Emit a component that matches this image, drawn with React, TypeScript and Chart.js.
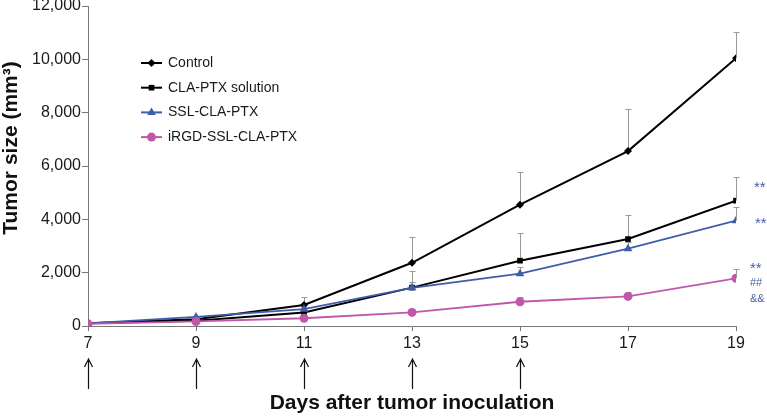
import React, { useEffect, useRef } from "react";
import { Chart, registerables } from "chart.js";

Chart.register(...registerables);

const days = [7, 9, 11, 13, 15, 17, 19];
const seriesLabels = ["Control", "CLA-PTX solution", "SSL-CLA-PTX", "iRGD-SSL-CLA-PTX"];
const controlMean = [100, 250, 790, 2370, 4550, 6560, 10040];
const controlErr = [0, 60, 290, 950, 1220, 1560, 1000];
const claMean = [100, 200, 510, 1440, 2450, 3260, 4700];
const claErr = [0, 50, 150, 620, 1050, 920, 890];
const sslMean = [100, 340, 630, 1430, 1960, 2900, 3950];
const sslErr = [0, 40, 100, 230, 260, 250, 530];
const irgdMean = [80, 170, 290, 510, 910, 1110, 1790];
const irgdErr = [0, 30, 60, 100, 170, 150, 350];
const xTicks = [7, 9, 11, 13, 15, 17, 19];
const yTicks = [0, 2000, 4000, 6000, 8000, 10000, 12000];
const arrowDays = [7, 9, 11, 13, 15];
const annotationTexts = ["**", "**", "**", "##", "&&"];
const annotationValues = [5320, 3970, 2290, 1610, 1010];

const FONT = "'Liberation Sans', Arial, Helvetica, sans-serif";
const BLUE = "#3f5daa";
const MAGENTA = "#c157a8";

function drawMarker(ctx: CanvasRenderingContext2D, style: string, x: number, y: number, r: number, color: string) {
  ctx.save();
  ctx.fillStyle = color;
  ctx.beginPath();
  if (style === "rectRot") {
    ctx.moveTo(x, y - r);
    ctx.lineTo(x + r, y);
    ctx.lineTo(x, y + r);
    ctx.lineTo(x - r, y);
    ctx.closePath();
  } else if (style === "rect") {
    const s = r * Math.SQRT1_2;
    ctx.rect(x - s, y - s, 2 * s, 2 * s);
  } else if (style === "triangle") {
    ctx.moveTo(x, y - r);
    ctx.lineTo(x + r * 0.866, y + r * 0.5);
    ctx.lineTo(x - r * 0.866, y + r * 0.5);
    ctx.closePath();
  } else {
    ctx.arc(x, y, r, 0, Math.PI * 2);
  }
  ctx.fill();
  ctx.restore();
}

export default function App() {
  const ref = useRef<HTMLCanvasElement>(null);

  useEffect(() => {
    document.body.style.margin = "0";
    const means = [controlMean, claMean, sslMean, irgdMean];
    const errs = [controlErr, claErr, sslErr, irgdErr];
    const colors = ["#000000", "#000000", BLUE, MAGENTA];
    const styles = ["rectRot", "rect", "triangle", "circle"];
    const radii = [4, 4, 5, 4.5];
    const widths = [2, 2, 1.8, 1.8];
    const orders = [3, 2, 1, 0];

    const datasets = means.map((m, i) => ({
      label: seriesLabels[i],
      data: days.map((d, j) => ({ x: d, y: m[j] })),
      borderColor: colors[i],
      backgroundColor: colors[i],
      pointBackgroundColor: colors[i],
      pointBorderColor: colors[i],
      pointBorderWidth: 0,
      pointStyle: styles[i] as any,
      pointRadius: radii[i],
      borderWidth: widths[i],
      tension: 0,
      order: orders[i],
    }));

    const extras = {
      id: "extras",
      beforeDatasetsDraw(chart: any) {
        const { ctx, scales } = chart;
        const xs = scales.x;
        const ys = scales.y;
        ctx.save();
        ctx.strokeStyle = "#9a9a9a";
        ctx.lineWidth = 1;
        errs.forEach((e, i) => {
          e.forEach((v, j) => {
            if (!v) return;
            const x = Math.round(xs.getPixelForValue(days[j])) + 0.5;
            const y0 = ys.getPixelForValue(means[i][j]);
            const y1 = Math.round(ys.getPixelForValue(means[i][j] + v)) + 0.5;
            ctx.beginPath();
            ctx.moveTo(x, y0);
            ctx.lineTo(x, y1);
            ctx.moveTo(x - 3, y1);
            ctx.lineTo(x + 3, y1);
            ctx.stroke();
          });
        });
        ctx.restore();
      },
      afterDraw(chart: any) {
        const { ctx, scales, chartArea } = chart;
        const xs = scales.x;
        const ys = scales.y;
        // arrows
        ctx.save();
        ctx.strokeStyle = "#111";
        ctx.lineWidth = 1.2;
        arrowDays.forEach((d) => {
          const x = Math.round(xs.getPixelForValue(d)) + 0.5;
          const top = chartArea.bottom + 33;
          const bot = chartArea.bottom + 63;
          ctx.beginPath();
          ctx.moveTo(x, bot);
          ctx.lineTo(x, top);
          ctx.moveTo(x - 4, top + 8);
          ctx.lineTo(x, top);
          ctx.lineTo(x + 4, top + 8);
          ctx.stroke();
        });
        ctx.restore();

        // legend
        ctx.save();
        chart.data.datasets.forEach((ds: any, i: number) => {
          const y = chartArea.top + 57 + i * 24.7;
          const lx = chartArea.left + 53;
          ctx.strokeStyle = ds.borderColor;
          ctx.lineWidth = 2;
          ctx.beginPath();
          ctx.moveTo(lx, y);
          ctx.lineTo(lx + 21, y);
          ctx.stroke();
          drawMarker(ctx, styles[i], lx + 10.5, y, radii[i], ds.borderColor);
          ctx.fillStyle = "#1a1a1a";
          ctx.font = `14px ${FONT}`;
          ctx.textAlign = "left";
          ctx.textBaseline = "middle";
          ctx.fillText(ds.label, lx + 27, y);
        });
        ctx.restore();

        // annotations
        ctx.save();
        ctx.fillStyle = "#4a5ea8";
        ctx.textAlign = "left";
        ctx.textBaseline = "middle";
        const xEnd = xs.getPixelForValue(days[days.length - 1]);
        annotationTexts.forEach((t, i) => {
          const offs = i === 0 ? 18 : i === 1 ? 19 : 14;
          const y = ys.getPixelForValue(annotationValues[i]);
          const star = t === "**";
          ctx.font = star ? `15px ${FONT}` : `11px ${FONT}`;
          ctx.fillText(t, xEnd + offs, star ? y + 4 : y);
        });
        ctx.restore();

        // y title
        ctx.save();
        ctx.fillStyle = "#111";
        ctx.font = `bold 21px ${FONT}`;
        ctx.textAlign = "center";
        ctx.textBaseline = "middle";
        ctx.translate(11, (chartArea.top + chartArea.bottom) / 2 - 18);
        ctx.rotate(-Math.PI / 2);
        ctx.fillText("Tumor size (mm³)", 0, 0);
        ctx.restore();
      },
    };

    const chart = new Chart(ref.current!, {
      type: "line",
      data: { datasets },
      options: {
        animation: false,
        responsive: true,
        maintainAspectRatio: false,
        layout: { padding: { top: 6, right: 31, bottom: 0, left: 0 } },
        plugins: { legend: { display: false }, tooltip: { enabled: false } },
        scales: {
          x: {
            type: "linear",
            min: 7,
            max: 19,
            afterBuildTicks: (s: any) => {
              s.ticks = xTicks.map((v) => ({ value: v }));
            },
            afterFit: (s: any) => {
              s.height = 90;
              s.paddingLeft = 0;
              s.paddingRight = 0;
            },
            grid: { display: true, drawOnChartArea: false, drawTicks: true, tickLength: 5, color: "#777" },
            border: { display: true, color: "#777", width: 1 },
            ticks: { color: "#1a1a1a", font: { family: FONT, size: 16 }, padding: 3, maxRotation: 0 },
            title: {
              display: true,
              text: "Days after tumor inoculation",
              color: "#111",
              font: { family: FONT, size: 21, weight: "bold", lineHeight: 1.2 },
              padding: 0,
            },
          },
          y: {
            type: "linear",
            min: 0,
            max: 12000,
            afterBuildTicks: (s: any) => {
              s.ticks = yTicks.map((v) => ({ value: v }));
            },
            afterFit: (s: any) => {
              s.width = 88;
              s.paddingTop = 0;
              s.paddingBottom = 0;
            },
            grid: { display: true, drawOnChartArea: false, drawTicks: true, tickLength: 6, color: "#777" },
            border: { display: true, color: "#777", width: 1 },
            ticks: {
              color: "#1a1a1a",
              font: { family: FONT, size: 16 },
              padding: 1,
              callback: (v: any) => Number(v).toLocaleString("en-US"),
            },
          },
        },
      },
      plugins: [extras],
    });
    return () => chart.destroy();
  }, []);

  return (
    <div style={{ width: 767, height: 416, position: "relative", background: "#fff" }}>
      <canvas ref={ref} />
    </div>
  );
}
